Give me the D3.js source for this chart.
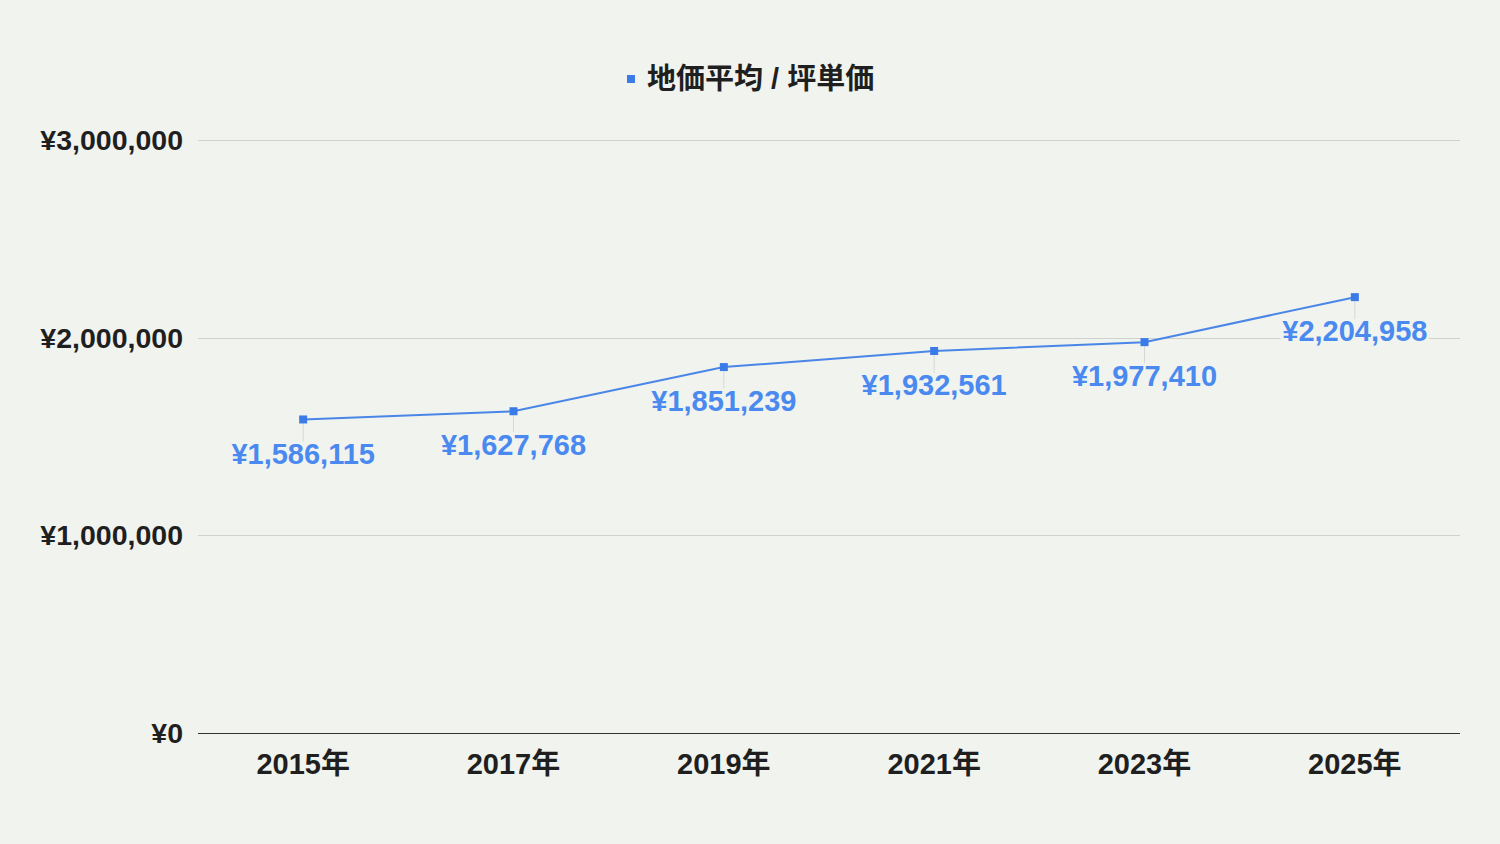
<!DOCTYPE html>
<html>
<head>
<meta charset="utf-8">
<script src="https://cdn.jsdelivr.net/npm/d3@7"></script>
<style>
	body { margin: 0; background: #f1f3ee; }
	text { font-family: "Liberation Sans", Arial, "Noto Sans CJK JP", sans-serif; font-weight: bold; }
</style>
</head>
<body>
<script>
var years = ['2015年', '2017年', '2019年', '2021年', '2023年', '2025年'];
var prices = [1586115, 1627768, 1851239, 1932561, 1977410, 2204958];
var yTicks = [0, 1000000, 2000000, 3000000];
var seriesName = '地価平均 / 坪単価';

var svg = d3.select('body')
	.append('svg')
	.attr('width', 1500)
	.attr('height', 844);

svg.append('rect')
	.attr('width', 1500)
	.attr('height', 844)
	.style('fill', '#f1f3ee');

var plotLeft = 198, plotRight = 1460, plotTop = 140, plotBottom = 733;

var x = d3.scaleBand()
	.domain(years)
	.range([plotLeft, plotRight]);

var y = d3.scaleLinear()
	.domain([0, 3000000])
	.range([plotBottom, plotTop]);

var yen = function(v) { return '¥' + d3.format(',')(v); };

// gridlines
svg.selectAll('.grid')
	.data(yTicks)
	.enter()
	.append('line')
	.classed('grid', true)
	.attr('x1', plotLeft)
	.attr('x2', plotRight)
	.attr('y1', function(d) { return Math.round(y(d)) + 0.5; })
	.attr('y2', function(d) { return Math.round(y(d)) + 0.5; })
	.style('stroke', function(d) { return d === 0 ? '#333' : '#cfd1cc'; })
	.style('stroke-width', 1);

// y axis labels
svg.selectAll('.ylabel')
	.data(yTicks)
	.enter()
	.append('text')
	.classed('ylabel', true)
	.attr('x', 183)
	.attr('y', function(d) { return y(d); })
	.attr('dy', '0.35em')
	.style('text-anchor', 'end')
	.style('font-size', '28.5px')
	.style('fill', '#1f1f1f')
	.text(yen);

// x axis labels
svg.selectAll('.xlabel')
	.data(years)
	.enter()
	.append('text')
	.classed('xlabel', true)
	.attr('x', function(d) { return x(d) + x.bandwidth() / 2; })
	.attr('y', 764)
	.attr('dy', '0.35em')
	.style('text-anchor', 'middle')
	.style('font-size', '29px')
	.style('fill', '#1f1f1f')
	.text(function(d) { return d; });

var cx = function(d, i) { return x(years[i]) + x.bandwidth() / 2; };

// leader lines
svg.selectAll('.leader')
	.data(prices)
	.enter()
	.append('line')
	.classed('leader', true)
	.attr('x1', cx)
	.attr('x2', cx)
	.attr('y1', function(d) { return y(d); })
	.attr('y2', function(d) { return y(d) + 22; })
	.style('stroke', '#d6d8d2')
	.style('stroke-width', 1);

// line
var line = d3.line()
	.x(function(d, i) { return cx(d, i); })
	.y(function(d) { return y(d); });

svg.append('path')
	.datum(prices)
	.attr('d', line)
	.style('fill', 'none')
	.style('stroke', '#4a86e8')
	.style('stroke-width', 2);

// points
svg.selectAll('.pt')
	.data(prices)
	.enter()
	.append('rect')
	.classed('pt', true)
	.attr('x', function(d, i) { return cx(d, i) - 4; })
	.attr('y', function(d) { return y(d) - 4; })
	.attr('width', 8)
	.attr('height', 8)
	.style('fill', '#3b7be8');

// data labels
var labels = svg.selectAll('.label')
	.data(prices)
	.enter()
	.append('g')
	.classed('label', true)
	.attr('transform', function(d, i) { return 'translate(' + cx(d, i) + ',' + (y(d) + 34) + ')'; });

labels.append('text')
	.attr('dy', '0.35em')
	.style('text-anchor', 'middle')
	.style('font-size', '29px')
	.style('fill', '#4a8af0')
	.style('paint-order', 'stroke')
	.style('stroke', '#f1f3ee')
	.style('stroke-width', 6)
	.text(yen);

// legend
var legend = svg.append('g')
	.attr('transform', 'translate(631,79)');
legend.append('rect')
	.attr('x', -4)
	.attr('y', -4)
	.attr('width', 8)
	.attr('height', 8)
	.style('fill', '#3b7be8');
legend.append('text')
	.attr('x', 16)
	.attr('dy', '0.35em')
	.style('font-size', '29px')
	.style('fill', '#1f1f1f')
	.text(seriesName);
</script>
</body>
</html>
